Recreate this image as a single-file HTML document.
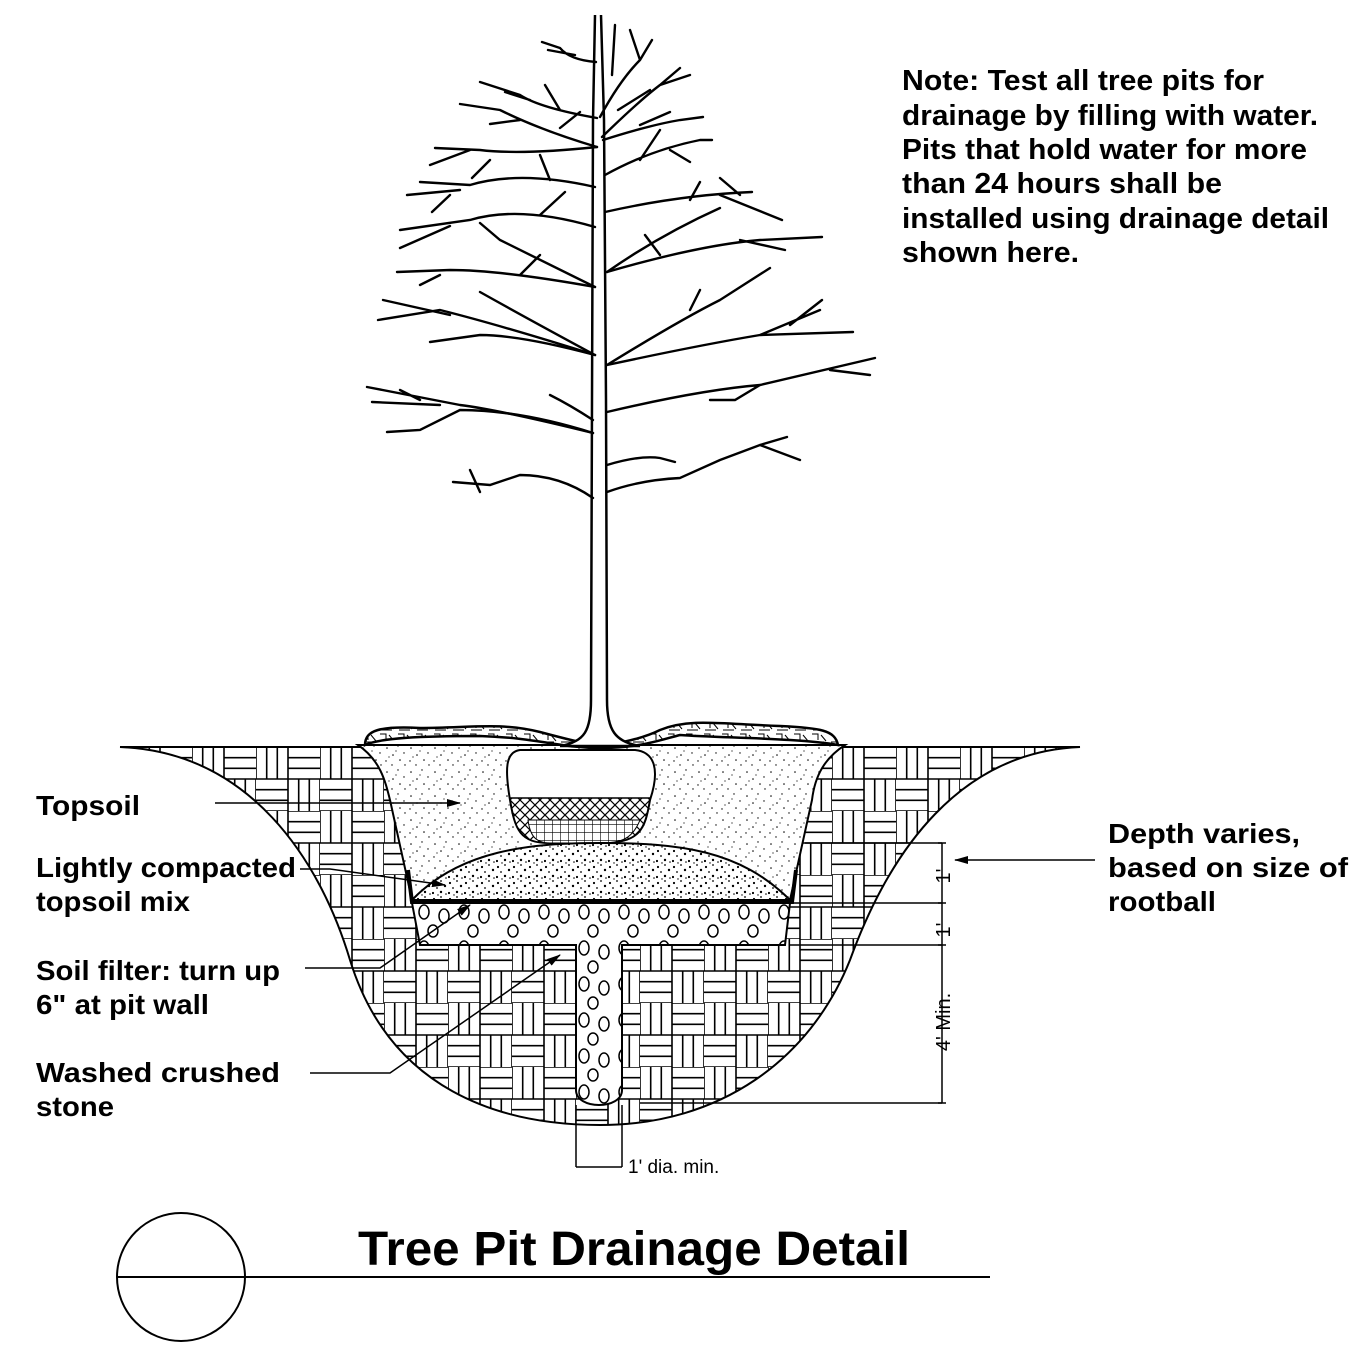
<!DOCTYPE html>
<html><head><meta charset="utf-8"><style>
html,body{margin:0;padding:0;background:#fff}
svg{display:block}
text{font-family:"Liberation Sans",Arial,sans-serif;font-weight:bold;fill:#000}
</style></head><body>
<svg width="1360" height="1358" viewBox="0 0 1360 1358" xmlns="http://www.w3.org/2000/svg">
<defs>
<pattern id="bw" width="64" height="64" patternUnits="userSpaceOnUse" x="0" y="747">
<rect width="64" height="64" fill="#fff"/>
<g stroke="#000" stroke-width="1.6">
<path d="M0,0V32M10.7,0V32M21.3,0V32M32,0V32"/>
<path d="M32,0H64M32,10.7H64M32,21.3H64M32,32H64"/>
<path d="M0,32H32M0,42.7H32M0,53.3H32M0,64H32"/>
<path d="M32,32V64M42.7,32V64M53.3,32V64M64,32V64"/>
</g></pattern>
<pattern id="dots" width="24" height="24" patternUnits="userSpaceOnUse">
<rect width="24" height="24" fill="#fff"/>
<g fill="#000"><circle cx="3" cy="4" r=".8"/><circle cx="14" cy="2" r=".7"/><circle cx="9" cy="11" r=".8"/><circle cx="20" cy="9" r=".7"/><circle cx="2" cy="17" r=".7"/><circle cx="16" cy="16" r=".8"/><circle cx="8" cy="21" r=".7"/><circle cx="21" cy="21" r=".7"/><circle cx="12" cy="7" r=".6"/><circle cx="5" cy="13" r=".6"/></g></pattern>
<pattern id="dense" width="16" height="16" patternUnits="userSpaceOnUse">
<rect width="16" height="16" fill="#fff"/>
<g fill="#000"><circle cx="2" cy="3" r="1.1"/><circle cx="9" cy="1" r=".9"/><circle cx="13" cy="6" r="1.2"/><circle cx="5" cy="8" r=".9"/><circle cx="1" cy="13" r="1.1"/><circle cx="9" cy="12" r="1.2"/><circle cx="14" cy="14" r=".8"/><circle cx="6" cy="15" r=".7"/></g></pattern>
<pattern id="stone" width="40" height="36" patternUnits="userSpaceOnUse" x="415" y="903">
<rect width="40" height="36" fill="#fff"/>
<g fill="none" stroke="#000" stroke-width="1.5"><ellipse cx="9" cy="9" rx="5" ry="7"/><ellipse cx="29" cy="13" rx="5" ry="7"/><ellipse cx="18" cy="28" rx="5" ry="6"/></g></pattern>
<pattern id="mul" width="18" height="12" patternUnits="userSpaceOnUse">
<rect width="18" height="12" fill="#fff"/><path d="M2,2L8,2L8,8M11,3L16,9M3,10L14,10" stroke="#000" stroke-width="1" fill="none"/></pattern>
<pattern id="xh" width="10" height="10" patternUnits="userSpaceOnUse">
<rect width="10" height="10" fill="#fff"/><path d="M0,0L10,10M10,0L0,10" stroke="#000" stroke-width="1.2"/></pattern>
<pattern id="grid" width="8" height="8" patternUnits="userSpaceOnUse">
<rect width="8" height="8" fill="#fff"/><path d="M0,0V8M0,0H8" stroke="#000" stroke-width="1.2"/></pattern>
<marker id="ah" markerWidth="14" markerHeight="8" refX="13" refY="4" orient="auto" markerUnits="userSpaceOnUse"><path d="M0,0L14,4L0,8Z" fill="#000"/></marker>
</defs>

<!-- bowl -->
<path d="M120,747 C250,752 320,860 350,960 C390,1090 500,1125 600,1125 C720,1125 810,1060 850,960 C890,850 960,752 1080,747 Z" fill="url(#bw)" stroke="#000" stroke-width="2"/>
<line x1="120" y1="747" x2="1080" y2="747" stroke="#000" stroke-width="2"/>

<!-- pit upper: topsoil -->
<path d="M358,745 C380,760 385,780 390,800 L412,900 L790,900 L812,800 C815,775 825,758 845,745 Z" fill="url(#dots)" stroke="#000" stroke-width="2"/>
<!-- mulch mounds -->
<path d="M365,745 C365,730 380,726 420,728 C470,728 500,722 540,732 C570,740 590,745 600,745 C610,745 640,740 660,730 C690,718 720,724 780,726 C820,728 835,730 838,745 C800,738 720,738 680,735 C660,740 640,748 600,748 C560,748 540,738 480,736 C420,736 380,738 365,745 Z" fill="url(#mul)" stroke="#000" stroke-width="2.5"/>
<!-- rootball -->
<path d="M520,750 L635,750 C655,752 660,770 650,800 C645,830 640,843 600,843 L550,843 C520,843 515,830 510,800 C505,770 505,752 520,750 Z" fill="#fff" stroke="#000" stroke-width="2"/>
<path d="M510,798 L650,798 C645,830 640,843 600,843 L550,843 C520,843 515,830 510,798 Z" fill="url(#xh)" stroke="#000" stroke-width="1.5"/>
<path d="M528,820 L640,820 C632,840 620,843 600,843 L550,843 C535,843 530,835 528,820 Z" fill="url(#grid)" stroke="#000" stroke-width="1"/>
<!-- compacted mound -->
<path d="M412,900 C460,850 530,843 600,843 C680,843 740,850 790,900 Z" fill="url(#dense)" stroke="#000" stroke-width="2"/>
<!-- stone layer -->
<path d="M412,903 L790,903 L785,945 L622,945 L622,1090 C622,1110 576,1110 576,1090 L576,945 L420,945 Z" fill="url(#stone)" stroke="#000" stroke-width="2"/>
<!-- filter -->
<path d="M408,870 L412,902 L792,902 L796,870" fill="none" stroke="#000" stroke-width="4"/>

<!-- tree trunk -->
<path d="M595,15 L593,120 L592,400 L591,700 C591,730 585,742 560,746 L640,746 C615,742 607,730 607,700 L606,400 L604,120 L601,15" fill="#fff" stroke="#000" stroke-width="2.5"/>
<g fill="none" stroke="#000" stroke-width="2.4" stroke-linecap="round">
<path d="M596,62 Q570,60 560,48 L542,42 M575,55 L548,50"/>
<path d="M597,118 Q540,108 520,95 L480,82 M530,100 L505,92 M560,110 L545,85"/>
<path d="M597,147 Q540,130 500,110 L460,104 M520,120 L490,124 M560,128 L580,112"/>
<path d="M597,147 Q520,155 480,150 L435,148 M490,160 L472,178 M470,150 L430,165"/>
<path d="M595,187 Q520,170 470,185 L420,182 M460,190 L407,195 M450,195 L432,212 M550,180 L540,155"/>
<path d="M595,227 Q520,205 470,220 L400,230 M450,226 L400,248 M540,215 L565,192"/>
<path d="M595,287 Q540,260 500,240 L480,223"/>
<path d="M595,287 Q500,270 450,270 L397,272 M440,275 L420,285 M520,275 L540,255"/>
<path d="M595,355 Q500,325 440,310 L378,320 M450,315 L383,300"/>
<path d="M595,355 Q530,320 480,292"/>
<path d="M595,355 Q520,335 480,335 L430,342"/>
<path d="M593,433 Q500,410 460,405 L367,387 M440,405 L372,402 M420,400 L400,390"/>
<path d="M593,433 Q520,410 460,410 L420,430 L387,432"/>
<path d="M593,420 Q570,405 550,395"/>
<path d="M593,498 Q560,475 520,475 L490,485 L453,482 M470,470 L480,492"/>
<path d="M600,117 Q620,80 640,60 L652,40 M640,60 L630,30 M612,75 L615,25"/>
<path d="M602,137 Q640,100 660,85 L680,68 M650,90 L618,110 M660,85 L690,75"/>
<path d="M603,140 Q650,125 680,120 L703,117 M640,125 L670,112"/>
<path d="M605,175 Q650,150 700,140 L712,140 M670,150 L690,162 M640,160 L660,130"/>
<path d="M605,212 Q680,195 752,192 M720,195 L782,220 M740,195 L720,178 M690,200 L700,182"/>
<path d="M607,272 Q660,235 720,208"/>
<path d="M607,272 Q700,245 760,240 L822,237 M740,240 L785,250 M660,255 L645,235"/>
<path d="M607,365 Q680,320 720,300 L770,268 M690,310 L700,290"/>
<path d="M607,365 Q700,345 760,335 L853,332 M760,335 L820,310 M790,325 L822,300"/>
<path d="M607,412 Q700,390 760,385 L875,358 M830,370 L870,375 M760,385 L735,400 L710,400"/>
<path d="M607,492 Q640,480 680,478 L720,460 L760,445 L787,437 M760,445 L800,460"/>
<path d="M607,465 Q640,455 660,458 L675,462"/>
</g>

<!-- dimensions -->
<g stroke="#000" stroke-width="1.5" fill="none">
<path d="M805,843H942M790,903H942M790,945H942M640,1103H942"/>
<path d="M942,843V1103"/>
<path d="M576,1105V1167M622,1105V1167M576,1167H622"/>
<path d="M938,843H946M938,903H946M938,945H946M938,1103H946"/>
</g>
<text font-size="20" transform="translate(950,876) rotate(-90)" text-anchor="middle" style="font-weight:normal">1'</text>
<text font-size="20" transform="translate(950,930) rotate(-90)" text-anchor="middle" style="font-weight:normal">1'</text>
<text font-size="20" transform="translate(950,1022) rotate(-90)" text-anchor="middle" style="font-weight:normal">4'  Min.</text>
<text x="628" y="1173" font-size="19" style="font-weight:normal">1'  dia.  min.</text>

<!-- leaders -->
<g stroke="#000" stroke-width="1.5" fill="none" marker-end="url(#ah)">
<path d="M1095,860H955"/>
<path d="M215,803H460"/>
<path d="M300,869H330L445,885"/>
<path d="M305,968H380L470,905"/>
<path d="M310,1073H390L560,955"/>
</g>

<!-- note -->
<g font-size="29">
<text x="902" y="90" textLength="362" lengthAdjust="spacingAndGlyphs">Note: Test all tree pits for</text>
<text x="902" y="125" textLength="416" lengthAdjust="spacingAndGlyphs">drainage by filling with water.</text>
<text x="902" y="159" textLength="405" lengthAdjust="spacingAndGlyphs">Pits that hold water for more</text>
<text x="902" y="193" textLength="320" lengthAdjust="spacingAndGlyphs">than 24 hours shall be</text>
<text x="902" y="228" textLength="427" lengthAdjust="spacingAndGlyphs">installed using drainage detail</text>
<text x="902" y="262" textLength="177" lengthAdjust="spacingAndGlyphs">shown here.</text>
</g>
<g font-size="28">
<text x="36" y="815" textLength="104" lengthAdjust="spacingAndGlyphs">Topsoil</text>
<text x="36" y="877" textLength="260" lengthAdjust="spacingAndGlyphs">Lightly compacted</text>
<text x="36" y="911" textLength="154" lengthAdjust="spacingAndGlyphs">topsoil mix</text>
<text x="36" y="980" textLength="244" lengthAdjust="spacingAndGlyphs">Soil filter: turn up</text>
<text x="36" y="1014" textLength="173" lengthAdjust="spacingAndGlyphs">6" at pit wall</text>
<text x="36" y="1082" textLength="244" lengthAdjust="spacingAndGlyphs">Washed crushed</text>
<text x="36" y="1116" textLength="78" lengthAdjust="spacingAndGlyphs">stone</text>
<text x="1108" y="843" textLength="192" lengthAdjust="spacingAndGlyphs">Depth varies,</text>
<text x="1108" y="877" textLength="240" lengthAdjust="spacingAndGlyphs">based on size of</text>
<text x="1108" y="911" textLength="108" lengthAdjust="spacingAndGlyphs">rootball</text>
</g>

<!-- title -->
<circle cx="181" cy="1277" r="64" fill="none" stroke="#000" stroke-width="2"/>
<line x1="117" y1="1277" x2="990" y2="1277" stroke="#000" stroke-width="2"/>
<text x="358" y="1265" font-size="48" textLength="552" lengthAdjust="spacingAndGlyphs">Tree Pit Drainage Detail</text>
</svg>
</body></html>
